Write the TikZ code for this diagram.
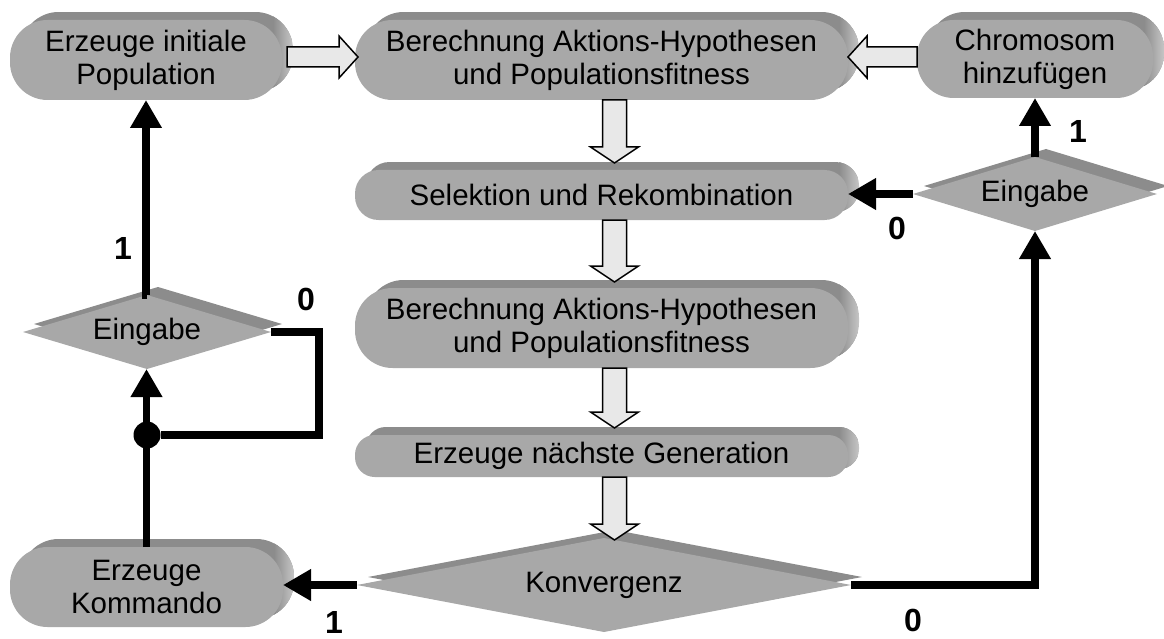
\documentclass[tikz,border=0pt]{standalone}
\usepackage{fontspec}
\setmainfont{Liberation Sans}
\usetikzlibrary{arrows.meta,calc,shapes.geometric}

\definecolor{facegray}{HTML}{A8A8A8}
\definecolor{backgray}{HTML}{8C8C8C}
\definecolor{sidelight}{HTML}{C6C6C6}
\definecolor{arrowfill}{HTML}{E8E8E8}

\tikzset{
  procface/.style={rectangle, fill=facegray, inner sep=0pt, outer sep=0pt, align=center,
    font=\fontsize{29.5}{33}\selectfont},
  decface/.style={diamond, fill=facegray, inner sep=0pt, outer sep=0pt,
    font=\fontsize{29.5}{33}\selectfont},
  decback/.style={diamond, fill=backgray, inner sep=0pt, outer sep=0pt},
  blockarrow/.style={fill=arrowfill, draw=black, line width=1.5pt, line join=miter},
  conn/.style={line width=7.5pt, line join=miter, -{Triangle[length=28pt,width=30pt]}},
  plainconn/.style={line width=7.5pt, line join=miter},
  branch/.style={font=\bfseries\fontsize{32}{36}\selectfont, inner sep=0pt},
  junction/.style={circle, fill=black, minimum size=27pt, inner sep=0pt}
}

% rounded process box with a raised back face: name, cx, cy, width, height, text
\newcommand\procbox[6]{%
  \pgfmathsetmacro\rr{0.47*#5}%
  \pgfmathsetmacro\bl{#2-#4/2+11}\pgfmathsetmacro\br{#2+#4/2+11}%
  \pgfmathsetmacro\bt{#3-#5/2-8}\pgfmathsetmacro\bb{#3+#5/2-8}%
  \begin{scope}
    \clip[rounded corners=\rr pt] (\bl,\bt) rectangle (\br,\bb);
    \fill[backgray] (\bl,\bt) rectangle (\br,\bb);
    \shade[left color=backgray, right color=sidelight] ({\br-20},\bt) rectangle (\br,\bb);
  \end{scope}
  \node[procface, minimum width=#4pt, minimum height=#5pt, rounded corners=\rr pt] (#1) at (#2,#3) {#6};
}

% decision diamond with a raised back face: name, cx, cy, width, height, text
\newcommand\decbox[6]{%
  \pgfmathsetmacro\asp{#4/#5}%
  \node[decback, minimum width=#4pt, minimum height=#5pt, shape aspect=\asp] at ({#2+11},{#3-8}) {};
  \node[decface, minimum width=#4pt, minimum height=#5pt, shape aspect=\asp] (#1) at (#2,#3) {#6};
}

% hollow block arrows between two points
\newcommand\blockdown[2]{%
  \draw[blockarrow] let \p1=#1, \p2=#2 in
    (\x1-12pt,\y1) -- (\x1-12pt,\y2+16pt) -- (\x1-24pt,\y2+16pt) -- (\x1,\y2)
    -- (\x1+24pt,\y2+16pt) -- (\x1+12pt,\y2+16pt) -- (\x1+12pt,\y1) -- cycle;}
\newcommand\blockright[2]{%
  \draw[blockarrow] let \p1=#1, \p2=#2 in
    (\x1,\y1+10pt) -- (\x2-19pt,\y1+10pt) -- (\x2-19pt,\y1+21pt) -- (\x2,\y1)
    -- (\x2-19pt,\y1-21pt) -- (\x2-19pt,\y1-10pt) -- (\x1,\y1-10pt) -- cycle;}
\newcommand\blockleft[2]{%
  \draw[blockarrow] let \p1=#1, \p2=#2 in
    (\x1,\y1+10pt) -- (\x2+19pt,\y1+10pt) -- (\x2+19pt,\y1+21pt) -- (\x2,\y1)
    -- (\x2+19pt,\y1-21pt) -- (\x2+19pt,\y1-10pt) -- (\x1,\y1-10pt) -- cycle;}

\begin{document}
\begin{tikzpicture}[x=1pt,y=-1pt]
\useasboundingbox (0,0) rectangle (1164,639);

% process boxes
\procbox{init}{146}{60}{272}{80}{Erzeuge initiale\\Population}
\procbox{calcA}{601.5}{60}{493}{80}{Berechnung Aktions-Hypothesen\\und Populationsfitness}
\procbox{chrom}{1035}{59}{236}{78}{Chromosom\\hinzufügen}
\procbox{sel}{601.5}{195}{493}{50}{Selektion und Rekombination}
\procbox{calcB}{601.5}{328}{493}{80}{Berechnung Aktions-Hypothesen\\und Populationsfitness}
\procbox{nextgen}{601.5}{456}{493}{42}{Erzeuge nächste Generation}
\procbox{cmd}{146.5}{587}{273}{80}{Erzeuge\\Kommando}

% decisions
\decbox{inL}{147}{332}{248}{74}{Eingabe}
\decbox{inR}{1035}{194}{244}{74}{Eingabe}
\decbox{conv}{604}{585}{494}{94}{Konvergenz}

% main flow (hollow arrows)
\blockright{($(init.east)+(5,-3)$)}{($(calcA.west)+(3,-3)$)}
\blockleft{($(chrom.west)+(0,-2)$)}{($(calcA.east)+(0,-3)$)}
\blockdown{($(calcA.south)+(13,0)$)}{($(sel.north)+(13,-7)$)}
\blockdown{($(sel.south)+(13,0)$)}{($(calcB.north)+(13,-6)$)}
\blockdown{($(calcB.south)+(13,0)$)}{($(nextgen.north)+(13,-7)$)}
\blockdown{($(nextgen.south)+(13,0)$)}{($(conv.north)+(10,2)$)}

% decision branches
\node[junction] (jn) at (147,435) {};
\draw[conn] (cmd.north) -- (cmd.north |- inL.south);
\draw[plainconn] (inL.east) -- ++(48,0) |- (jn);
\draw[conn] (inL.north) -- (inL.north -| init.south) -- (init.south);
\draw[conn] (conv.west) -- (conv.west -| cmd.east);
\draw[conn] (conv.east) -| (inR.south);
\draw[conn] (inR.west) -- (inR.west -| sel.east);
\draw[conn] (inR.north) -- (chrom.south);

% branch labels
\node[branch] (l1) at (123,248) {1};
\node[branch] (l2) at (306,299) {0};
\node[branch] (l3) at (334,622) {1};
\node[branch] (l4) at (913,620) {0};
\node[branch] (l5) at (897,228) {0};
\node[branch] (l6) at (1078,131) {1};
\end{tikzpicture}
\end{document}
